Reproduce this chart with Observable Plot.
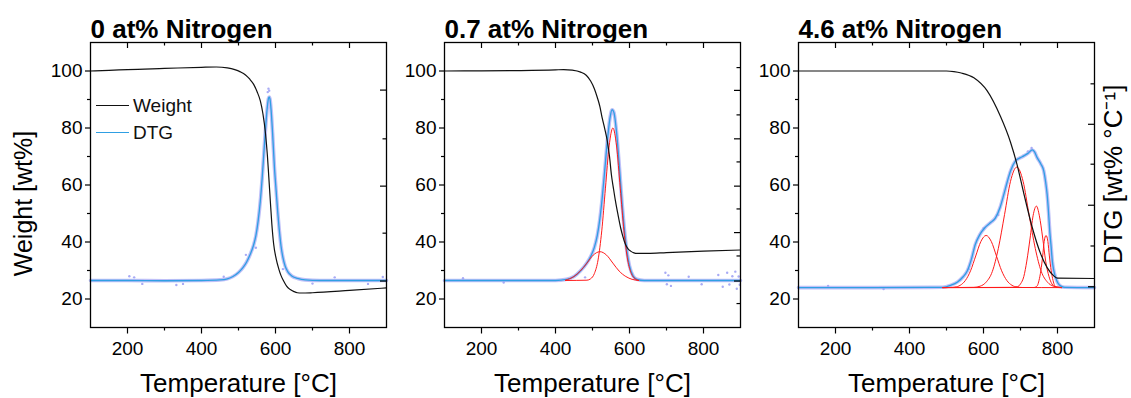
<!DOCTYPE html>
<html><head><meta charset="utf-8">
<script src="https://cdn.jsdelivr.net/npm/d3@7"></script>
<script src="https://cdn.jsdelivr.net/npm/@observablehq/plot@0.6"></script>
<style>
body{margin:0;background:#fff;font-family:"Liberation Sans",Arial,sans-serif}
#chart{position:relative;width:1131px;height:398px;overflow:hidden;background:#fff}
#chart svg{position:absolute;top:0;overflow:visible}
.lg{position:absolute;font-size:19px;line-height:19px;color:#111;white-space:nowrap}
.sw{position:absolute;width:33px;height:0}
</style></head><body><div id="chart"></div>
<script>
// ---- tick values ----
const xTicks = [200, 400, 600, 800];
const xMinor = [300, 500, 700];
const yTicks = [20, 40, 60, 80, 100];
const yMinor = [30, 50, 70, 90];
const titles = ["0 at% Nitrogen", "0.7 at% Nitrogen", "4.6 at% Nitrogen"];
const xLabel = "Temperature [°C]";
const yLabel = "Weight [wt%]";
const y2Label = "DTG [wt% °C⁻¹]";
const legendLabels = ["Weight", "DTG"];

// right (DTG) axis tick positions, expressed on the left-axis scale
const right0Major = [26.3, 59.6, 93.3], right0Minor = [43.1, 76.2];
const right07Major = [26.3, 43.3, 59.6, 76.2, 93.2], right07Minor = [18.4, 35.1, 51.6, 68.1, 84.6, 101.2];
const right46Major = [24.3, 52.9, 81.3], right46Minor = [38.6, 67.3, 95.5];

// ---- 0 at% ----
const weight0 = [[100,100],[150,100.2],[200,100.5],[300,100.9],[400,101.3],[440,101.4],[470,101.1],[490,100.5],[505,99.7],[519,98.6],[530,97.2],[541,95.3],[550,92.8],[559,89.5],[566,85],[573,78],[578,70.5],[582,62.6],[586,54.4],[590,46.5],[595,39.3],[602,34],[609,30.5],[615,28.2],[622,26.3],[630,24.5],[640,23.3],[650,22.6],[659,22.2],[670,22.1],[700,22.2],[800,23],[900,23.9]];
const dtg0 = [[100,26.5],[200,26.5],[300,26.4],[400,26.5],[450,26.7],[470,27.1],[485,27.9],[500,29.3],[512,31],[522,33],[532,35.8],[540,38.6],[547,42.2],[553,47.3],[559,54.4],[564,62.5],[569,72],[574,81.5],[578,87.5],[581,90.4],[583,90.9],[585,90.2],[588,86.5],[592,78.5],[597,66.5],[602,57.5],[606,50.5],[610,44.5],[615,38.5],[620,34.6],[626,31.6],[633,29.6],[645,28],[660,27.2],[680,26.7],[720,26.5],[800,26.5],[900,26.5]];
const noise0 = [[205,28],[218,27.6],[240,25.3],[332,24.9],[350,25.3],[460,27.8],[520,35.5],[547,38],[579,92.6],[581,93.8],[583,93.1],[620,30.5],[700,25.4],[760,27.6],[850,25.3],[890,27.7]];

// ---- 0.7 at% ----
const weight07 = [[100,100],[200,100.05],[300,100.15],[400,100.4],[422,100.5],[445,100.3],[468,99.6],[483,98.5],[495,96.5],[505,93.8],[513,90.7],[520,87.5],[526,83.6],[533,79.8],[540,75.4],[546,70],[551,63.7],[557,58.5],[562,54.4],[569,49.5],[576,45],[582,42],[589,39.2],[596,37.6],[603,36.8],[612,36.2],[621,36],[650,36],[700,36.3],[800,36.8],[900,37.2]];
const dtg07 = [[100,26.5],[300,26.5],[400,26.5],[430,26.9],[450,27.9],[467,29.8],[485,32.7],[495,34.9],[505,38.1],[513,42.3],[520,48.2],[526,55.1],[533,65],[540,75.3],[547,83.3],[553,86.4],[558,85.4],[565,78.5],[572,67.5],[580,53.5],[590,39.8],[600,31.6],[610,28],[620,26.9],[640,26.5],[900,26.5]];
const fit07a = [[427,26.5],[485,26.6],[495,27.1],[505,28.9],[515,33.7],[525,43.9],[535,58.9],[545,73.7],[555,80],[565,73.7],[575,58.9],[585,43.9],[595,33.7],[605,28.9],[615,27.1],[625,26.5]];
const fit07b = [[427,26.6],[450,27.9],[467,29.8],[485,32.6],[502,35.4],[520,36.6],[538,35.4],[555,32.6],[572,29.8],[590,27.9],[607,26.9],[625,26.5]];
const noise07 = [[150,27.3],[260,25.8],[480,27.6],[697,29.2],[701,25.2],[705,28.3],[712,24.6],[760,27.8],[795,25.2],[840,28.4],[852,24.3],[864,29.2],[870,25.1],[878,28],[886,29.6],[890,23.6],[895,27.9],[898,25]];

// ---- 4.6 at% ----
const weight46 = [[100,100],[300,100],[500,100],[520,99.8],[540,99.3],[574,97.6],[610,93],[646,84],[673,75],[690,67.5],[709,57],[732,45],[754,36],[772,31],[790,28.1],[800,27.3],[900,27.2]];
const dtg46 = [[100,24],[300,24],[490,24.1],[511,24.8],[530,26],[545,27.8],[556,29.8],[567,33.8],[578,39.2],[590,42.6],[605,45.2],[620,46.9],[632,48.4],[645,52.2],[655,56.7],[665,61.5],[673,64.9],[686,68.4],[700,69.6],[709,70.2],[720,71.1],[732,72.3],[738,71.6],[745,69.6],[755,67.4],[763,64.9],[768,61],[772,56.7],[776,50],[779,43.9],[783,38],[786,33.3],[790,30],[795,27.5],[801,25.6],[808,24.6],[820,24.1],[900,24]];
const fit46a = [[490,24],[509,24.04],[523,24.2],[537,24.8],[551,26.5],[565,29.9],[579,35.1],[593,40.2],[607,42.3],[621,40.2],[635,35.1],[649,29.9],[663,26.5],[677,24.8],[691,24.2],[705,24.04],[810,24]];
const fit46b = [[490,24],[574,24.1],[591,24.5],[607,25.9],[624,29.7],[640,37.7],[657,49.7],[673,61.3],[690,66.3],[707,61.3],[723,49.7],[740,37.7],[756,29.7],[773,25.9],[789,24.5],[806,24.1],[810,24]];
const fit46c = [[490,24],[683,24.1],[692,24.3],[700,25.3],[709,27.9],[717,33.3],[726,41.4],[734,49.2],[743,52.6],[751,49.2],[760,41.4],[768,33.3],[777,27.9],[785,25.3],[794,24.3],[802,24.1],[810,24]];
const fit46d = [[490,24],[736,24.04],[741,24.2],[746,24.8],[750,26.5],[755,29.9],[760,35.1],[764,40.2],[769,42.3],[774,40.2],[778,35.1],[783,29.9],[788,26.5],[792,24.8],[797,24.2],[801,24.04],[810,24]];
const noise46 = [[180,24.6],[330,23.5],[560,30.5],[600,44.8],[640,49.5],[720,71.8],[730,73]];

// ---- styles ----
const C = {weight: "#111111", dtg: "#2f9fe3", band: "#a9abf5", fit: "#ff1a1a"};
const FONT = "Liberation Sans, Arial, sans-serif";
const PW = 296, MT = 42, MB = 71, H = 398, FH = H - MT - MB;

const rows = a => a.map(([t, v]) => ({t, v}));

function panel({left, ml, mr, title, weight, dtg, fits, noise, rMajor, rMinor, yTitle, y2Title}) {
  const marks = [
    Plot.line(rows(dtg), {x: "t", y: "v", stroke: C.band, strokeWidth: 3.6, strokeOpacity: 0.75, curve: "monotone-x"}),
    Plot.dot(rows(noise), {x: "t", y: "v", r: 1.2, fill: C.band, stroke: null}),
    Plot.line(rows(dtg), {x: "t", y: "v", stroke: C.dtg, strokeWidth: 1.3, curve: "monotone-x"}),
    ...fits.map(f => Plot.line(rows(f), {x: "t", y: "v", stroke: C.fit, strokeWidth: 1, curve: "monotone-x"})),
    Plot.line(rows(weight), {x: "t", y: "v", stroke: C.weight, strokeWidth: 1.2, curve: "monotone-x"}),
    Plot.frame({stroke: "black", strokeWidth: 1.3}),
    // bottom axis (outward)
    Plot.axisX(xTicks, {anchor: "bottom", tickSize: 6.5, tickPadding: 7, fontSize: 19, label: null, strokeWidth: 1.2}),
    Plot.axisX(xMinor, {anchor: "bottom", tickSize: 3.5, tickFormat: () => "", label: null, strokeWidth: 1.2}),
    // left axis (outward)
    Plot.axisY(yTicks, {anchor: "left", tickSize: 5, tickPadding: 3, fontSize: 19, label: null, strokeWidth: 1.2}),
    Plot.axisY(yMinor, {anchor: "left", tickSize: 3, tickFormat: () => "", label: null, strokeWidth: 1.2}),
    // top ticks (inward)
    Plot.tickX(xTicks, {x: d => d, insetBottom: FH - 6, stroke: "black", strokeWidth: 1.2}),
    Plot.tickX(xMinor, {x: d => d, insetBottom: FH - 3.5, stroke: "black", strokeWidth: 1.2}),
    // right DTG ticks (inward)
    Plot.tickY(rMajor, {y: d => d, insetLeft: PW - 6, stroke: "black", strokeWidth: 1.2}),
    Plot.tickY(rMinor, {y: d => d, insetLeft: PW - 3.5, stroke: "black", strokeWidth: 1.2}),
    // panel title
    Plot.text([title], {text: d => d, frameAnchor: "top-left", textAnchor: "start", lineAnchor: "middle", dy: -13, fontSize: 26, fontWeight: "bold", fill: "black"}),
    // x label
    Plot.text([xLabel], {text: d => d, frameAnchor: "bottom", textAnchor: "middle", lineAnchor: "middle", dy: 56, fontSize: 26, fill: "black"})
  ];
  if (yTitle) marks.push(Plot.text([yTitle], {text: d => d, frameAnchor: "left", rotate: -90, textAnchor: "middle", lineAnchor: "middle", dx: -67, dy: 18.5, fontSize: 25, fill: "black"}));
  if (y2Title) marks.push(Plot.text([y2Title], {text: d => d, frameAnchor: "right", rotate: -90, textAnchor: "middle", lineAnchor: "middle", dx: 19.5, dy: -10.5, fontSize: 26, fill: "black"}));
  const svg = Plot.plot({
    width: ml + PW + mr, height: H,
    marginLeft: ml, marginRight: mr, marginTop: MT, marginBottom: MB,
    x: {domain: [100, 900]},
    y: {domain: [10, 110]},
    style: {background: "transparent", fontFamily: FONT, color: "black", overflow: "visible"},
    marks
  });
  svg.style.left = left + "px";
  document.getElementById("chart").appendChild(svg);
}

panel({left: 0, ml: 90, mr: 20, title: titles[0], weight: weight0, dtg: dtg0, fits: [], noise: noise0, rMajor: right0Major, rMinor: right0Minor, yTitle: yLabel});
panel({left: 384, ml: 60, mr: 20, title: titles[1], weight: weight07, dtg: dtg07, fits: [fit07a, fit07b], noise: noise07, rMajor: right07Major, rMinor: right07Minor});
panel({left: 738, ml: 60, mr: 37, title: titles[2], weight: weight46, dtg: dtg46, fits: [fit46a, fit46b, fit46c, fit46d], noise: noise46, rMajor: right46Major, rMinor: right46Minor, y2Title: y2Label});

// legend (panel 1)
const chart = document.getElementById("chart");
[[legendLabels[0], C.weight, 105.7], [legendLabels[1], C.dtg, 132.3]].forEach(([lab, col, cy]) => {
  const sw = document.createElement("div");
  sw.className = "sw";
  sw.style.left = "96px"; sw.style.top = (cy - 0.6) + "px";
  sw.style.borderTop = "1.3px solid " + col;
  chart.appendChild(sw);
  const t = document.createElement("div");
  t.className = "lg";
  t.textContent = lab;
  t.style.left = "133px"; t.style.top = (cy - 9.3) + "px";
  chart.appendChild(t);
});
</script></body></html>
